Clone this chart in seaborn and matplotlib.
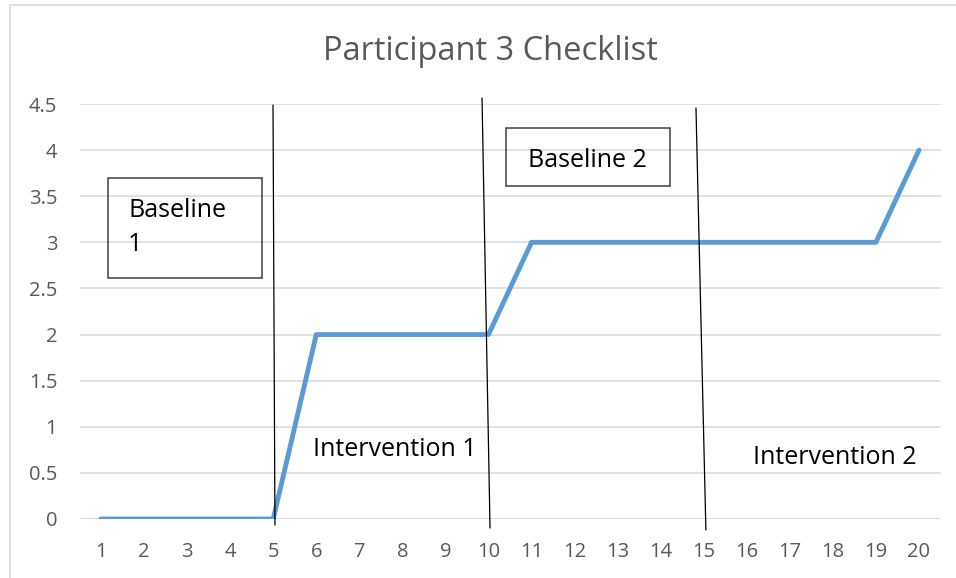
import matplotlib.pyplot as plt
import matplotlib.patches as mpatches
import pandas as pd
import seaborn as sns

# datos del gráfico
sesiones = list(range(1, 21))
puntuacion = [0, 0, 0, 0, 0, 2, 2, 2, 2, 2, 3, 3, 3, 3, 3, 3, 3, 3, 3, 4]
yticks = [0, 0.5, 1, 1.5, 2, 2.5, 3, 3.5, 4, 4.5]

# líneas de cambio de fase (dibujadas a mano, ligeramente inclinadas)
fase_x0 = [4.995, 9.85, 14.82]
fase_x1 = [5.04, 10.036, 15.05]
fase_y0 = [4.489, 4.565, 4.457]
fase_y1 = [-0.065, -0.098, -0.119]

df = pd.DataFrame({'sesion': sesiones, 'puntuacion': puntuacion})

sns.set_style("white")
plt.rcParams['font.family'] = ['Open Sans', 'DejaVu Sans']

fig = plt.figure(figsize=(9.56, 5.78), dpi=100)
ax = fig.add_axes([79.5 / 956, 59 / 578, 861 / 956, 415 / 578])

# borde del área del gráfico
fig.patches.append(mpatches.Rectangle((10 / 956, -0.05), 1.0, 1 - 5 / 578 + 0.05,
                                      transform=fig.transFigure, fill=False,
                                      edgecolor='#D9D9D9', linewidth=1.2))

sns.lineplot(data=df, x='sesion', y='puntuacion', color='#5B9BD5', linewidth=3.5,
             ax=ax, zorder=3)

ax.set_xlim(0.5, 20.5)
ax.set_ylim(0, 4.5)
ax.set_xticks(sesiones)
ax.set_xticklabels([str(s) for s in sesiones])
ax.set_yticks(yticks)
ax.set_yticklabels([f'{v:g}' for v in yticks])
ax.tick_params(axis='both', length=0, labelsize=14.5, colors='#595959')
ax.tick_params(axis='x', pad=16.5)
ax.tick_params(axis='y', pad=16)
ax.set_xlabel('')
ax.set_ylabel('')
ax.grid(axis='y', color='#D9D9D9', linewidth=1.1)
ax.grid(axis='x', visible=False)
for s in ax.spines.values():
    s.set_visible(False)
ax.axhline(0, color='#D9D9D9', linewidth=1.1, zorder=1)

fig.text(490 / 956, 1 - 51 / 578, 'Participant 3 Checklist', ha='center', va='center',
         fontsize=23.5, color='#595959')

for x0, x1, y0, y1 in zip(fase_x0, fase_x1, fase_y0, fase_y1):
    ax.plot([x0, x1], [y0, y1], color='black', linewidth=0.9, clip_on=False, zorder=4)

# cuadros de texto
ax.add_patch(mpatches.Rectangle((1.163, 2.613), 3.577, 1.085, fill=False,
                                edgecolor='#404040', linewidth=1.1, clip_on=False, zorder=5))
ax.text(1.627, 3.35, 'Baseline', ha='left', va='center', fontsize=18, color='black')
ax.text(1.627, 2.98, '1', ha='left', va='center', fontsize=18, color='black')

ax.add_patch(mpatches.Rectangle((10.41, 3.611), 3.81, 0.629, fill=False,
                                edgecolor='#404040', linewidth=1.1, clip_on=False, zorder=5))
ax.text(12.31, 3.885, 'Baseline 2', ha='center', va='center', fontsize=18, color='black')

ax.text(5.925, 0.75, 'Intervention 1', ha='left', va='center', fontsize=18, color='black')
ax.text(16.145, 0.664, 'Intervention 2', ha='left', va='center', fontsize=18, color='black')

fig.savefig('out.png', dpi=100)
